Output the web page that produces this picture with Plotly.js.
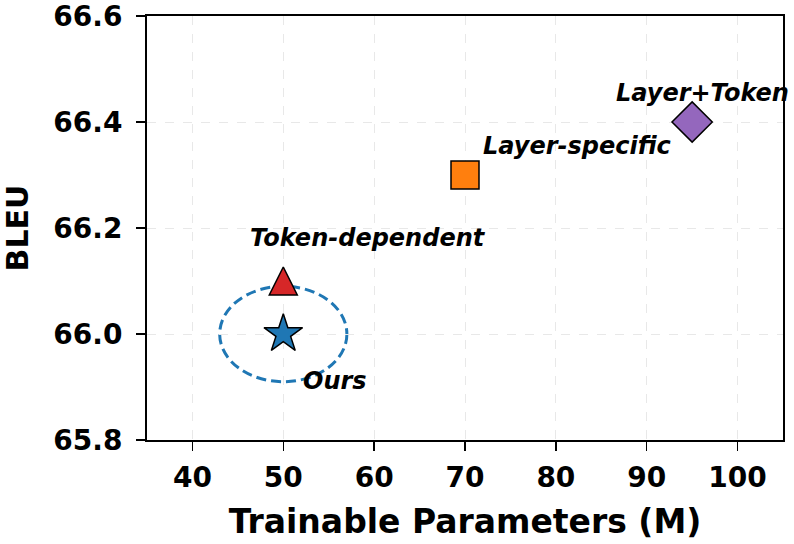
<!DOCTYPE html>
<html>
<head>
<meta charset="utf-8">
<script src="https://cdn.plot.ly/plotly-3.0.1.min.js"></script>
<style>
  html, body { margin: 0; padding: 0; background: #ffffff; }
  #chart { width: 794px; height: 544px; }
</style>
</head>
<body>
<div id="chart"></div>
<script>
// Methods compared: trainable parameters (M) vs. BLEU
const methods = ["Ours", "Token-dependent", "Layer-specific", "Layer+Token"];
const params = [50, 50, 70, 95];
const bleu = [66.0, 66.1, 66.3, 66.4];
const colors = ["#1f77b4", "#d62728", "#ff7f0e", "#9467bd"];

// Marker styles per method. The triangle is an arrow glyph flipped and
// pulled back by half its size so it sits centred, as tall as it is wide.
const symbols = ["star", "arrow-down", "square", "diamond"];
const markerSizes = [29, 28, 28, 31];
const markerAngles = [0, 180, 0, 0];
const markerStandoffs = [0, 14, 0, 0];

// Label placement relative to each point (pixels)
const labelShiftX = [52, 85, 112, 10];
const labelShiftY = [-47, 43, 29, 29];

// Highlight ring around our method (half-widths in data units)
const ringHalfX = 7;
const ringHalfY = 0.09;

const xTicks = [40, 50, 60, 70, 80, 90, 100];
const yTicks = [65.8, 66.0, 66.2, 66.4, 66.6];

const FONT = "DejaVu Sans, sans-serif";

const traces = methods.map((m, i) => ({
  type: "scatter",
  mode: "markers",
  x: [params[i]],
  y: [bleu[i]],
  name: m,
  marker: {
    symbol: symbols[i],
    size: markerSizes[i],
    angle: markerAngles[i],
    standoff: markerStandoffs[i],
    color: colors[i],
    line: { color: "#000000", width: 1.5 }
  },
  cliponaxis: false,
  hoverinfo: "x+y+name"
}));

const annotations = methods.map((m, i) => ({
  x: params[i],
  y: bleu[i],
  xref: "x",
  yref: "y",
  text: m,
  showarrow: false,
  xanchor: "center",
  yanchor: "middle",
  xshift: labelShiftX[i],
  yshift: labelShiftY[i],
  font: { family: FONT, size: 24, color: "#000000", weight: "bold", style: "italic" }
}));

const gridStyle = { showgrid: true, gridcolor: "#e8e8e8", griddash: "dash", gridwidth: 1 };

const layout = {
  width: 794,
  height: 544,
  margin: { l: 147, r: 11, t: 16, b: 104 },
  paper_bgcolor: "#ffffff",
  plot_bgcolor: "#ffffff",
  showlegend: false,
  font: { family: FONT, color: "#000000" },
  xaxis: Object.assign({
    range: [35, 105],
    tickvals: xTicks,
    ticktext: xTicks.map(String),
    ticks: "outside",
    ticklen: 9,
    tickwidth: 1.5,
    tickcolor: "#000000",
    ticklabelstandoff: 2,
    ticklabeloverflow: "allow",
    showline: true,
    linecolor: "#000000",
    linewidth: 2,
    mirror: true,
    zeroline: false,
    tickfont: { family: FONT, size: 28, weight: "bold", color: "#000000" },
    title: { text: "Trainable Parameters (M)", font: { family: FONT, size: 33, weight: "bold", color: "#000000" }, standoff: 17 }
  }, gridStyle),
  yaxis: Object.assign({
    range: [65.8, 66.6],
    tickvals: yTicks,
    ticktext: yTicks.map(v => v.toFixed(1)),
    ticks: "outside",
    ticklen: 9,
    tickwidth: 1.5,
    tickcolor: "#000000",
    ticklabelstandoff: 8,
    ticklabeloverflow: "allow",
    showline: true,
    linecolor: "#000000",
    linewidth: 2,
    mirror: true,
    zeroline: false,
    tickfont: { family: FONT, size: 28, weight: "bold", color: "#000000" },
    title: { text: "BLEU", font: { family: FONT, size: 30, weight: "bold", color: "#000000" }, standoff: 18 }
  }, gridStyle),
  shapes: [{
    type: "circle",
    xref: "x",
    yref: "y",
    x0: params[0] - ringHalfX,
    x1: params[0] + ringHalfX,
    y0: bleu[0] - ringHalfY,
    y1: bleu[0] + ringHalfY,
    line: { color: "#1f77b4", width: 3, dash: "10px,5px" },
    fillcolor: "rgba(0,0,0,0)",
    layer: "below"
  }],
  annotations: annotations
};

Plotly.newPlot("chart", traces, layout, { displayModeBar: false, staticPlot: true });
</script>
</body>
</html>
